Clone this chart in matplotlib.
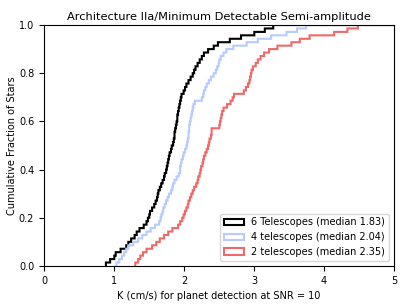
import numpy as np
import matplotlib
matplotlib.use('Agg')
import matplotlib.pyplot as plt

# Minimum detectable K (cm/s) per star
k_6tel = [0.89, 0.95, 1.01, 1.03, 1.10, 1.18, 1.21, 1.25, 1.30, 1.33,
          1.37, 1.43, 1.47, 1.49, 1.51, 1.52, 1.55, 1.58, 1.60, 1.62,
          1.63, 1.64, 1.66, 1.68, 1.70, 1.72, 1.73, 1.75, 1.76, 1.77,
          1.78, 1.79, 1.80, 1.82, 1.83, 1.85, 1.86, 1.87, 1.87, 1.88,
          1.89, 1.90, 1.91, 1.91, 1.92, 1.93, 1.94, 1.95, 1.96, 1.97,
          2.00, 2.02, 2.04, 2.07, 2.10, 2.13, 2.15, 2.17, 2.20, 2.23,
          2.26, 2.29, 2.35, 2.43, 2.49, 2.66, 2.82, 3.01, 3.16, 3.28]
k_4tel = [1.04, 1.08, 1.12, 1.15, 1.18, 1.21, 1.28, 1.35, 1.41, 1.47,
          1.53, 1.59, 1.65, 1.67, 1.68, 1.70, 1.71, 1.73, 1.75, 1.77,
          1.79, 1.82, 1.84, 1.85, 1.87, 1.90, 1.93, 1.95, 1.95, 1.96,
          1.97, 1.99, 2.00, 2.02, 2.04, 2.05, 2.06, 2.07, 2.07, 2.08,
          2.08, 2.09, 2.10, 2.11, 2.12, 2.13, 2.14, 2.16, 2.26, 2.28,
          2.29, 2.31, 2.33, 2.36, 2.39, 2.43, 2.46, 2.48, 2.50, 2.51,
          2.53, 2.57, 2.61, 2.71, 2.90, 3.06, 3.25, 3.47, 3.62, 3.75]
k_2tel = [1.31, 1.35, 1.38, 1.42, 1.47, 1.55, 1.61, 1.66, 1.72, 1.78,
          1.84, 1.92, 1.95, 1.98, 2.00, 2.02, 2.04, 2.06, 2.07, 2.09,
          2.11, 2.13, 2.15, 2.18, 2.20, 2.21, 2.23, 2.24, 2.25, 2.27,
          2.28, 2.29, 2.31, 2.33, 2.35, 2.36, 2.37, 2.39, 2.40, 2.40,
          2.51, 2.52, 2.53, 2.54, 2.55, 2.57, 2.62, 2.67, 2.70, 2.72,
          2.86, 2.89, 2.92, 2.94, 2.95, 2.96, 2.97, 2.99, 3.03, 3.06,
          3.10, 3.15, 3.22, 3.34, 3.54, 3.66, 3.80, 4.15, 4.34, 4.49]

labels = ['6 Telescopes', '4 telescopes', '2 telescopes']
medians = [1.83, 2.04, 2.35]
colors = ['black', '#b8cbff', '#f06868']

fig = plt.figure(figsize=(4.07, 3.05), dpi=100)
ax = fig.add_axes([0.108, 0.128, 0.860, 0.790])

for vals, name, med, col in zip([k_6tel, k_4tel, k_2tel], labels, medians, colors):
    bins = np.arange(min(vals) - 0.005, 10, 0.01)
    ax.hist(vals, bins=bins, cumulative=True, density=True, histtype='step',
            color=col, lw=1.5, label=f'{name} (median {med:.2f})')

ax.set_xlim(0, 5)
ax.set_ylim(0, 1)
ax.set_title('Architecture IIa/Minimum Detectable Semi-amplitude', fontsize=8.2, pad=3.5)
ax.set_xlabel('K (cm/s) for planet detection at SNR = 10', fontsize=7)
ax.set_ylabel('Cumulative Fraction of Stars', fontsize=7, labelpad=1)
ax.tick_params(labelsize=7)
ax.legend(loc='lower right', fontsize=7)

fig.savefig('out.png', dpi=100)
